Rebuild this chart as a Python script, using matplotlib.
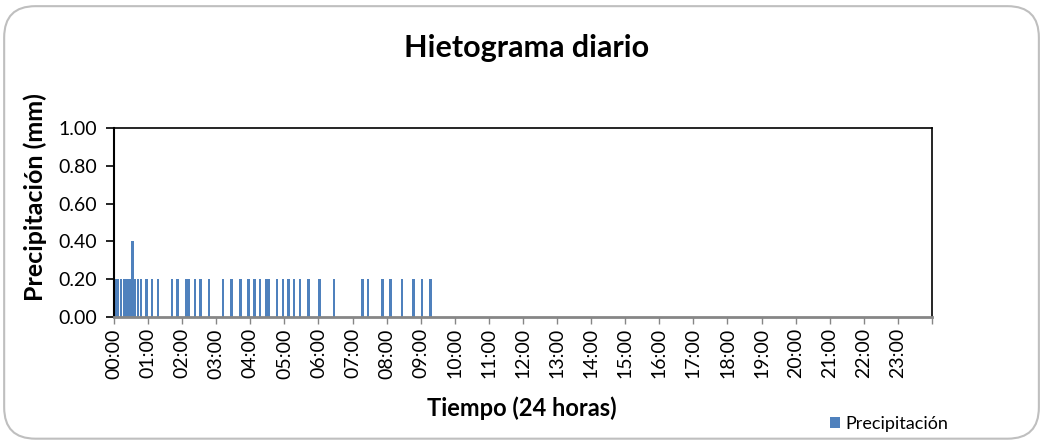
import matplotlib
matplotlib.use('Agg')
import matplotlib.pyplot as plt
from matplotlib.patches import FancyBboxPatch

plt.rcParams['font.family'] = ['Lato', 'DejaVu Sans']

# start of each 5-minute interval and its rainfall (mm)
times = ["00:00", "00:05", "00:10", "00:15", "00:20", "00:25", "00:30", "00:35",
         "00:40", "00:45", "00:55", "01:05", "01:15", "01:40", "01:50", "02:05",
         "02:10", "02:20", "02:30", "02:45", "03:10", "03:25", "03:40", "03:55",
         "04:05", "04:15", "04:25", "04:30", "04:45", "04:55", "05:05", "05:15",
         "05:25", "05:40", "06:00", "06:25", "07:15", "07:25", "07:50", "08:05",
         "08:25", "08:45", "09:00", "09:15"]
precip = [0.2, 0.2, 0.2, 0.2, 0.2, 0.2, 0.4, 0.2,
          0.2, 0.2, 0.2, 0.2, 0.2, 0.2, 0.2, 0.2,
          0.2, 0.2, 0.2, 0.2, 0.2, 0.2, 0.2, 0.2,
          0.2, 0.2, 0.2, 0.2, 0.2, 0.2, 0.2, 0.2,
          0.2, 0.2, 0.2, 0.2, 0.2, 0.2, 0.2, 0.2,
          0.2, 0.2, 0.2, 0.2]
hour_labels = ["%02d:00" % h for h in range(24)]
y_ticks = [0.0, 0.2, 0.4, 0.6, 0.8, 1.0]


def to_hours(t):
    h, m = t.split(":")
    return int(h) + int(m) / 60.0


x = [to_hours(t) for t in times]

fig = plt.figure(figsize=(10.42, 4.4), dpi=100)
# rounded chart border like the excel chart area
border = FancyBboxPatch((0.004, 0.003), 0.993, 0.983,
                        boxstyle="round,pad=0,rounding_size=0.03",
                        transform=fig.transFigure, facecolor='none',
                        edgecolor='#BFBFBF', linewidth=1.5,
                        mutation_aspect=1042 / 440, zorder=-1)
fig.patches.append(border)
ax = fig.add_axes([0.1094, 0.2795, 0.785, 0.4296])

ax.bar(x, precip, width=4.5 / 60, align='edge', color='#4F81BD', label='Precipitación')

ax.set_xlim(0, 24)
ax.set_ylim(0, 1.0)
ax.set_xticks(range(25))
ax.set_xticklabels(hour_labels + [""], rotation=90, fontsize=14)
ax.set_yticks(y_ticks)
ax.set_yticklabels(["%.2f" % v for v in y_ticks], fontsize=14)

for s in ['top', 'right']:
    ax.spines[s].set_linewidth(1.2)
    ax.spines[s].set_color('black')
ax.spines['left'].set_linewidth(1.5)
ax.spines['left'].set_color('black')
ax.spines['bottom'].set_linewidth(2)
ax.spines['bottom'].set_color('#868686')
ax.spines['bottom'].set_zorder(3)
ax.tick_params(axis='x', direction='out', length=5, width=1, color='#868686', pad=3)
ax.tick_params(axis='y', direction='out', length=6, width=1.2, color='black', pad=6)

fig.text(0.505, 0.89, "Hietograma diario", fontsize=22, fontweight='bold',
         ha='center', va='center')
fig.text(0.034, 0.553, "Precipitación (mm)", fontsize=18, fontweight='bold',
         rotation=90, ha='center', va='center')
fig.text(0.501, 0.073, "Tiempo (24 horas)", fontsize=17, fontweight='bold',
         ha='center', va='center')

ax.legend(loc='center left', bbox_to_anchor=(0.797, 0.036), frameon=False,
          fontsize=13, handlelength=0.55, handleheight=0.55, handletextpad=0.25,
          borderaxespad=0, borderpad=0, bbox_transform=fig.transFigure)

fig.savefig("out.png", dpi=100)
